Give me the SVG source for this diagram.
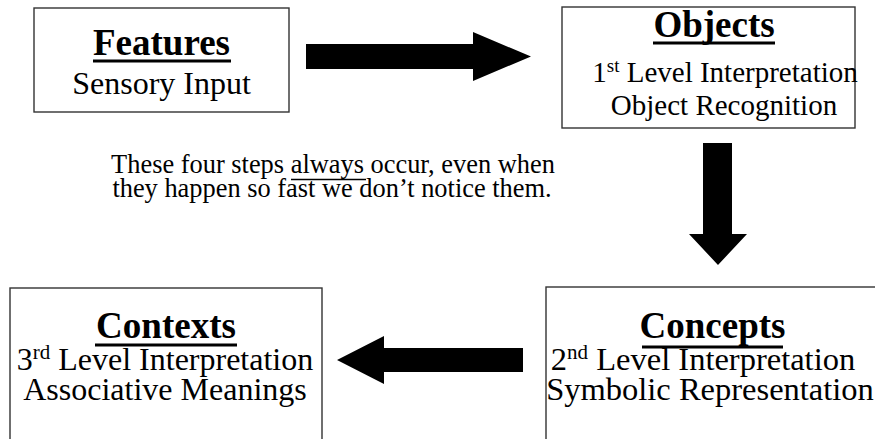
<svg xmlns="http://www.w3.org/2000/svg" width="875" height="439" viewBox="0 0 875 439">
  <style>
    .box { fill: #ffffff; stroke: #333333; stroke-width: 1.4; }
    .head { font-family: "Liberation Serif", "Times New Roman", serif; font-weight: bold; font-size: 37px; fill: #000; text-anchor: middle; }
    .body { font-family: "Liberation Serif", "Times New Roman", serif; font-size: 32px; fill: #000; text-anchor: middle; }
    .small { font-size: 29px; }
    .wide { font-size: 32.5px; }
    .note { font-family: "Liberation Serif", "Times New Roman", serif; font-size: 26.4px; fill: #000; text-anchor: middle; }
    .ul { stroke: #000; stroke-width: 3; }
    .ul-thin { stroke: #000; stroke-width: 1.5; }
    .arrow { fill: #000; }
  </style>
  <rect width="875" height="439" fill="#ffffff"/>

  <!-- Node: Features -->
  <g id="features">
    <rect class="box" x="34" y="8" width="255" height="104"/>
    <text class="head" x="161.5" y="55">Features</text>
    <line class="ul" x1="93" y1="61" x2="231" y2="61"/>
    <text class="body" x="161.5" y="94">Sensory Input</text>
  </g>

  <!-- Node: Objects -->
  <g id="objects">
    <rect class="box" x="562" y="7" width="293" height="121"/>
    <text class="head" x="714" y="37">Objects</text>
    <line class="ul" x1="653" y1="43" x2="775" y2="43"/>
    <text class="body small" x="725" y="82">1<tspan font-size="19" dy="-10">st</tspan><tspan dy="10"> Level Interpretation</tspan></text>
    <text class="body small" x="724" y="115">Object Recognition</text>
  </g>

  <!-- Node: Concepts -->
  <g id="concepts">
    <rect class="box" x="546" y="287" width="345" height="170"/>
    <text class="head" x="712.5" y="338">Concepts</text>
    <line class="ul" x1="642" y1="347" x2="783" y2="347"/>
    <text class="body wide" x="703" y="370">2<tspan font-size="21" dy="-11">nd</tspan><tspan dy="11"> Level Interpretation</tspan></text>
    <text class="body wide" x="710" y="400">Symbolic Representation</text>
  </g>

  <!-- Node: Contexts -->
  <g id="contexts">
    <rect class="box" x="10" y="288" width="312" height="170"/>
    <text class="head" x="166" y="338">Contexts</text>
    <line class="ul" x1="95" y1="345" x2="237" y2="345"/>
    <text class="body" x="165" y="370">3<tspan font-size="21" dy="-11">rd</tspan><tspan dy="11"> Level Interpretation</tspan></text>
    <text class="body" x="165" y="400">Associative Meanings</text>
  </g>

  <!-- Free note between the rows -->
  <g id="note">
    <text class="note" x="333" y="173">These four steps always occur, even when</text>
    <line class="ul-thin" x1="291" y1="179.5" x2="366" y2="179.5"/>
    <text class="note" x="332" y="197">they happen so fast we don’t notice them.</text>
  </g>

  <!-- Connectors: block arrows -->
  <g id="connectors">
    <polygon class="arrow" points="306,44 473,44 473,32 531,56.5 473,81 473,69 306,69"/>
    <polygon class="arrow" points="703,143 732,143 732,234 747,234 718,265 689,234 703,234"/>
    <polygon class="arrow" points="523,348 384,348 384,336 337,360 384,384 384,372 523,372"/>
  </g>
</svg>
